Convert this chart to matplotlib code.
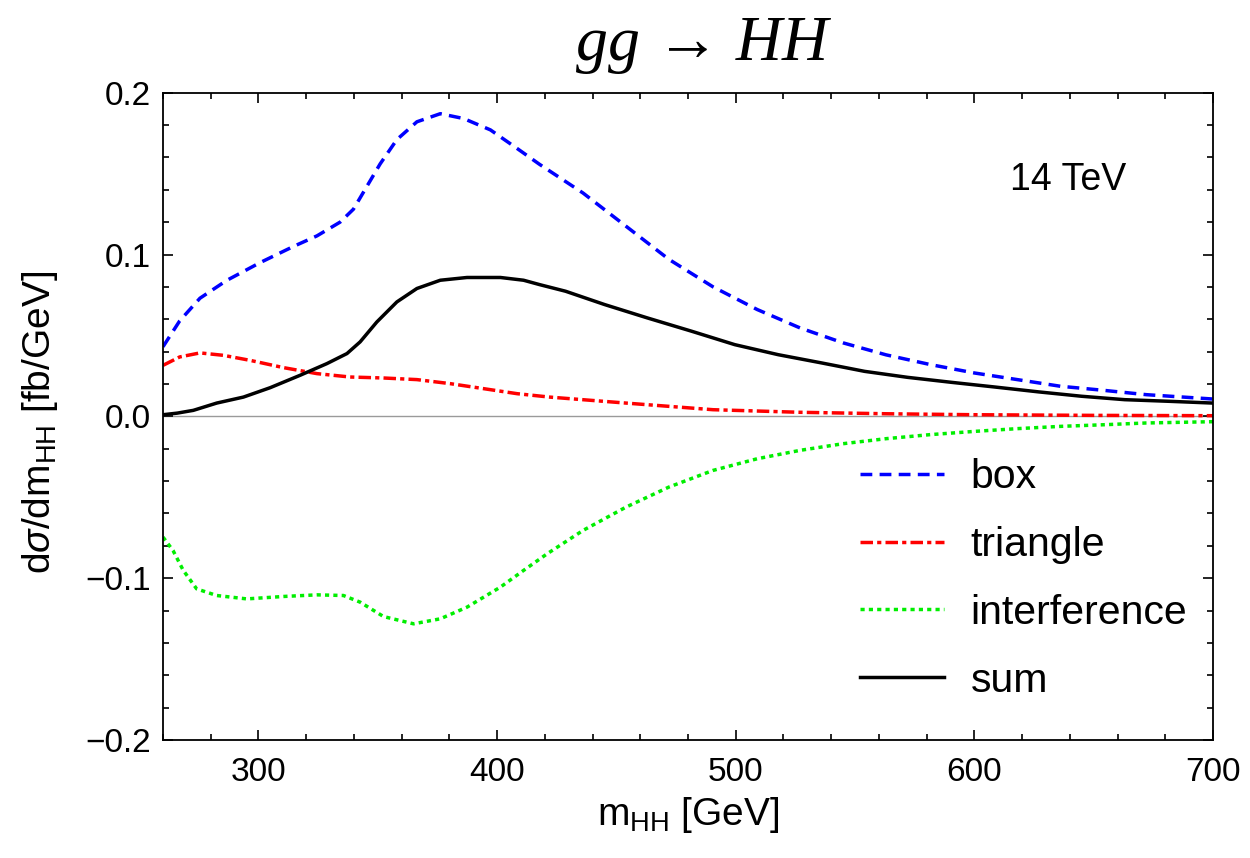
import numpy as np
import matplotlib
matplotlib.use("Agg")
import matplotlib.pyplot as plt
from matplotlib.ticker import MultipleLocator, FixedLocator, FixedFormatter

plt.rcParams['font.family']      = ['Liberation Sans', 'DejaVu Sans']
plt.rcParams['mathtext.fontset'] = 'custom'
plt.rcParams['mathtext.rm']      = 'Liberation Sans'
plt.rcParams['mathtext.it']      = 'Liberation Sans:italic'
plt.rcParams['mathtext.bf']      = 'Liberation Sans:bold'

# m_HH [GeV] and dsigma/dm_HH [fb/GeV] for each contribution
box_m   = [260, 267, 275.5, 286.7, 300.7, 314.7, 324.5, 334.2, 339.8, 345.4, 351, 358, 366.4,
           376.2, 386, 397.2, 408.4, 417.8, 436, 454, 472, 490.5, 509, 527, 545, 563, 581.5,
           600, 618, 636, 654, 672, 700]
box_xs  = [0.043, 0.059, 0.073, 0.084, 0.095, 0.105, 0.1115, 0.120, 0.128, 0.142, 0.156, 0.171,
           0.182, 0.187, 0.184, 0.177, 0.1655, 0.1557, 0.138, 0.1175, 0.097, 0.080, 0.066,
           0.0546, 0.0454, 0.038, 0.032, 0.0268, 0.0227, 0.0186, 0.0161, 0.0134, 0.0107]

tri_m   = [260, 267, 275.5, 285.3, 296.5, 310.5, 324.5, 338.4, 352.4, 366.4, 380.4, 394.4,
           408.4, 422, 454, 490.5, 527, 563, 600, 650, 700]
tri_xs  = [0.0315, 0.0367, 0.0392, 0.0377, 0.0346, 0.0301, 0.0264, 0.0243, 0.0237, 0.0227,
           0.0202, 0.0171, 0.014, 0.0119, 0.0082, 0.0041, 0.0025, 0.0016, 0.001, 0.0006, 0.0004]

int_m   = [260, 264.2, 268.5, 274.1, 282.5, 295.1, 310.5, 324.5, 335.6, 342.6, 352.4, 365,
           376.2, 387.4, 401.4, 411.1, 421, 436, 454, 472, 490.5, 509, 527, 545, 563, 581.5,
           600, 618, 636, 654, 672, 700]
int_xs  = [-0.0746, -0.0829, -0.0952, -0.1066, -0.1107, -0.1128, -0.1113, -0.1103, -0.1107,
           -0.1148, -0.1237, -0.1282, -0.1251, -0.1179, -0.1055, -0.0952, -0.0849, -0.0705,
           -0.0561, -0.0437, -0.0334, -0.0262, -0.021, -0.0169, -0.0138, -0.0113, -0.0093,
           -0.0076, -0.0062, -0.0052, -0.0041, -0.0033]

sum_m   = [260, 266, 272.7, 282.5, 293.7, 304.9, 317.5, 328.7, 337.1, 342.6, 349.6, 358,
           366.4, 376.2, 387.4, 401.4, 411.1, 417.8, 428.7, 445, 463, 481.5, 499.6, 517.8,
           536, 554, 572, 590.5, 608.7, 627, 645, 663, 681.5, 700]
sum_xs  = [0.001, 0.002, 0.0037, 0.0082, 0.0119, 0.0177, 0.0254, 0.0326, 0.0388, 0.046,
           0.0583, 0.0707, 0.079, 0.0841, 0.0858, 0.0858, 0.0841, 0.0814, 0.0773, 0.0691,
           0.0608, 0.0526, 0.0443, 0.0381, 0.033, 0.0278, 0.0241, 0.021, 0.0181, 0.0151,
           0.0124, 0.0103, 0.0093, 0.0082]

labels       = ["box", "triangle", "interference", "sum"]
x_ticks      = [300, 400, 500, 600, 700]
y_ticks      = [-0.2, -0.1, 0.0, 0.1, 0.2]
y_ticklabels = ["\u22120.2", "\u22120.1", "0.0", "0.1", "0.2"]

fig = plt.figure(figsize=(12.5, 8.58), dpi=100)
ax  = fig.add_axes([0.1304, 0.1375, 0.8400, 0.7545])

LW = 2.5
ax.axhline(0, color="#9a9a9a", lw=1.0, zorder=1)
ax.plot(box_m, box_xs, color="#0000ff", lw=LW, ls=(0, (3.4, 2.1)), label=labels[0])
ax.plot(tri_m, tri_xs, color="#ff0000", lw=LW, ls=(0, (3.6, 1.2, 1.2, 1.2)), label=labels[1])
ax.plot(int_m, int_xs, color="#00ee00", lw=LW, ls=(0, (1.2, 1.2)), label=labels[2])
ax.plot(sum_m, sum_xs, color="black", lw=LW, label=labels[3])

ax.set_xlim(260, 700)
ax.set_ylim(-0.2, 0.2)
ax.xaxis.set_major_locator(FixedLocator(x_ticks))
ax.xaxis.set_minor_locator(MultipleLocator(20))
ax.yaxis.set_major_locator(FixedLocator(y_ticks))
ax.yaxis.set_major_formatter(FixedFormatter(y_ticklabels))
ax.yaxis.set_minor_locator(MultipleLocator(0.02))
ax.tick_params(which="both", direction="in", top=True, right=True, width=1.2)
ax.tick_params(which="major", length=7, labelsize=24)
ax.tick_params(which="minor", length=4)
ax.tick_params(axis="x", which="major", pad=12)
ax.tick_params(axis="y", which="major", pad=9)
for s in ax.spines.values():
    s.set_linewidth(1.3)

ax.set_xlabel(r"m$_{\mathrm{HH}}$ [GeV]", fontsize=28, labelpad=5)
ax.set_ylabel(r"d$\sigma$/dm$_{\mathrm{HH}}$ [fb/GeV]", fontsize=28)
ax.yaxis.set_label_coords(-0.098, 0.49)

ax.text(0.807, 0.85, "14 TeV", transform=ax.transAxes, fontsize=27, va="baseline")

fig.text(0.562, 0.93, "gg \u2192 HH", ha="center", va="baseline", fontsize=46,
         family=["Liberation Serif", "DejaVu Serif"], style="italic")

ax.legend(loc="upper left", bbox_to_anchor=(860 / 1250, 1 - 458 / 858),
          bbox_transform=fig.transFigure, frameon=False, fontsize=29.5,
          handlelength=2.05, handletextpad=0.65, labelspacing=0.73, borderpad=0,
          borderaxespad=0)

fig.savefig("out.png", dpi=100)
